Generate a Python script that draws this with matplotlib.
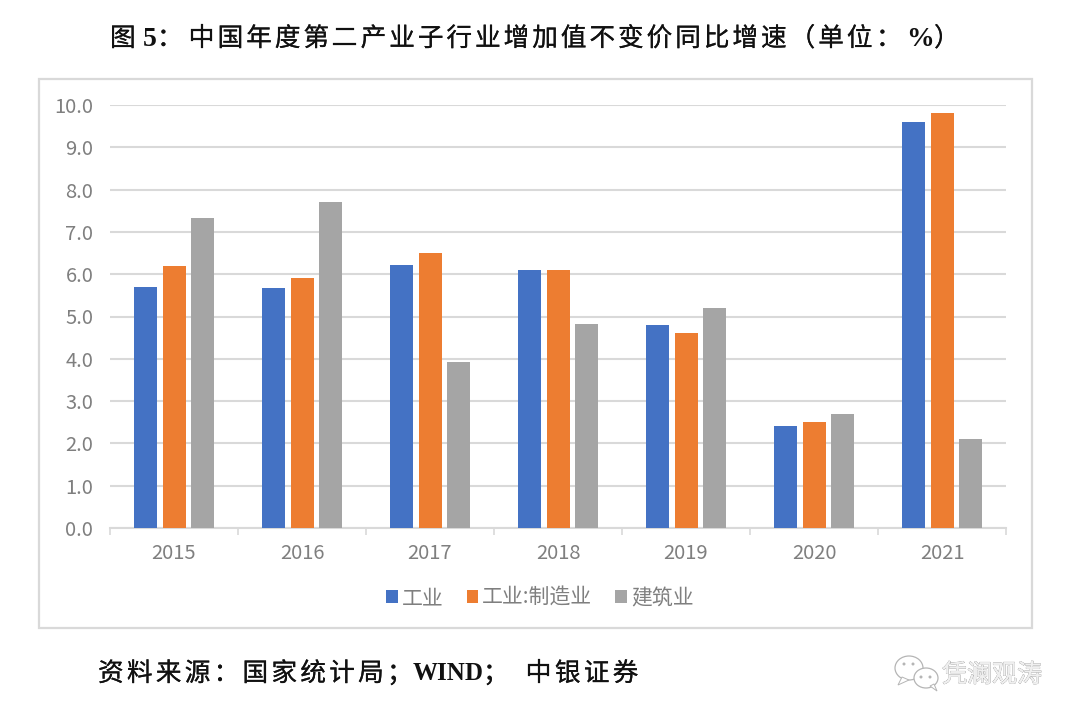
"""Yearly value-added growth by secondary industry sub-sector, grouped bars."""
import matplotlib
matplotlib.use("Agg")
import matplotlib.pyplot as plt
import matplotlib.patheffects as pe
from matplotlib.patches import Ellipse, Polygon, Rectangle

plt.rcParams["font.family"] = ["Noto Sans CJK SC", "DejaVu Sans"]

# --- Data ---
YEARS = ["2015", "2016", "2017", "2018", "2019", "2020", "2021"]
INDUSTRY = [5.7, 5.67, 6.22, 6.1, 4.8, 2.4, 9.6]
MANUFACTURING = [6.2, 5.9, 6.5, 6.1, 4.6, 2.5, 9.8]
CONSTRUCTION = [7.33, 7.7, 3.93, 4.82, 5.2, 2.7, 2.1]
SERIES_LABELS = ["工业", "工业:制造业", "建筑业"]
Y_TICKS = [0, 1, 2, 3, 4, 5, 6, 7, 8, 9, 10]

TITLE_CJK = "中国年度第二产业子行业增加值不变价同比增速（单位：%）"
SOURCE_A = "资料来源：国家统计局；"
SOURCE_B = "中银证券"

COLORS = ["#4472c4", "#ed7d31", "#a5a5a5"]
GREY_TEXT = "#7f7f7f"
LINE = "#d9d9d9"
SERIF = "Liberation Serif"
W, H = 1080, 720
# the source glyphs are a heavy song face, thicken the sans a little
HEAVY = [pe.withStroke(linewidth=0.15, foreground="#111111")]


def px(x, y):
    """Pixel position (top-left origin) to figure fraction."""
    return x / W, 1 - y / H


def put(fig, x, y, s, **kw):
    fx, fy = px(x, y)
    fig.text(fx, fy, s, ha="left", va="center", color="#111111", **kw)


def spaced(fig, x, y, s, pitch, **kw):
    # the source text is set with wide tracking, so place it glyph by glyph
    for i, ch in enumerate(s):
        put(fig, x + i * pitch, y, ch, path_effects=HEAVY, **kw)


fig = plt.figure(figsize=(10.8, 7.2), dpi=100, facecolor="white")

# outer chart frame, behind the axes
x0, y0 = px(39, 628)
fig.add_artist(Rectangle((x0, y0), 993 / W, 549 / H, transform=fig.transFigure,
                         facecolor="white", edgecolor=LINE, linewidth=1.6, zorder=-1))

ax = fig.add_axes([110 / W, 1 - 528 / H, 896 / W, 423 / H])
ax.patch.set_alpha(0)

x = range(len(YEARS))
width = 0.18
step = 0.2227
for k, (vals, color, label) in enumerate(
        zip([INDUSTRY, MANUFACTURING, CONSTRUCTION], COLORS, SERIES_LABELS)):
    ax.bar([i + (k - 1) * step + 0.003 for i in x], vals, width=width, color=color,
           label=label, zorder=3)

ax.set_xlim(-0.5, len(YEARS) - 0.5)
ax.set_ylim(0, 10)
ax.set_yticks(Y_TICKS)
ax.set_yticklabels([f"{v:.1f}" for v in Y_TICKS], fontsize=14.5, color=GREY_TEXT)
ax.set_xticks([i - 0.5 for i in range(len(YEARS) + 1)])
ax.set_xticklabels([])
ax.set_xticks(list(x), YEARS, minor=True, fontsize=14.5, color=GREY_TEXT)
ax.tick_params(axis="y", length=0, pad=12)
ax.tick_params(axis="x", which="major", length=5, color=LINE, width=1.2)
ax.tick_params(axis="x", which="minor", length=0, pad=11)
ax.yaxis.grid(True, color=LINE, linewidth=1.5, zorder=0)
ax.set_axisbelow(True)
for side in ["top", "right", "left"]:
    ax.spines[side].set_visible(False)
ax.spines["bottom"].set_color(LINE)
ax.spines["bottom"].set_linewidth(1.5)

lx, ly = px(540, 598)
leg = fig.legend(loc="center", bbox_to_anchor=(lx, ly), ncol=3, frameon=False,
                 fontsize=15, handlelength=0.55, handleheight=0.55,
                 handletextpad=0.2, columnspacing=1.1, labelcolor=GREY_TEXT)

# title: serif bold digit, tracked CJK
spaced(fig, 110, 39, "图", 28.6, fontsize=18.5)
put(fig, 143, 39, "5", fontsize=20, family=SERIF, fontweight="bold")
spaced(fig, 157, 39, "：", 28.6, fontsize=18.5)
spaced(fig, 189, 39, TITLE_CJK[:24], 28.6, fontsize=18.5)
spaced(fig, 876, 39, "：", 28.6, fontsize=18.5)
put(fig, 906, 39, "%", fontsize=20, family=SERIF, fontweight="bold")
spaced(fig, 934, 39, "）", 28.6, fontsize=18.5)

# source line
spaced(fig, 98, 674, SOURCE_A, 28.9, fontsize=18.5)
put(fig, 413, 674, "WIND", fontsize=18, family=SERIF, fontweight="bold")
spaced(fig, 483, 674, "；", 28.9, fontsize=18.5)
spaced(fig, 526, 674, SOURCE_B, 28.9, fontsize=18.5)

# watermark: chat bubbles and account name
for cx, cy, rx, ry in [(909, 668, 14, 12), (926, 678, 12, 10)]:
    fx, fy = px(cx, cy)
    fig.add_artist(Ellipse((fx, fy), 2 * rx / W, 2 * ry / H, transform=fig.transFigure,
                           facecolor="white", edgecolor="#b5b5b5", linewidth=0.9))
for pts in [[(902, 677), (898, 685), (909, 680)], [(930, 686), (937, 691), (934, 684)]]:
    fig.add_artist(Polygon([px(*p) for p in pts], transform=fig.transFigure,
                           facecolor="white", edgecolor="#b5b5b5", linewidth=0.7))
for dx, dy in [(904, 664), (913, 664), (921, 677), (930, 677)]:
    fx, fy = px(dx, dy)
    fig.add_artist(Ellipse((fx, fy), 3 / W, 3 / H, transform=fig.transFigure,
                           facecolor="#b5b5b5", edgecolor="none"))
fx, fy = px(942, 675)
fig.text(fx, fy, "凭澜观涛", ha="left", va="center", fontsize=18, color="#f0f0f0",
         path_effects=[pe.withStroke(linewidth=0.5, foreground="#8a8a8a"),
                       pe.Normal()])

fig.savefig("out.png", dpi=100, facecolor="white")
